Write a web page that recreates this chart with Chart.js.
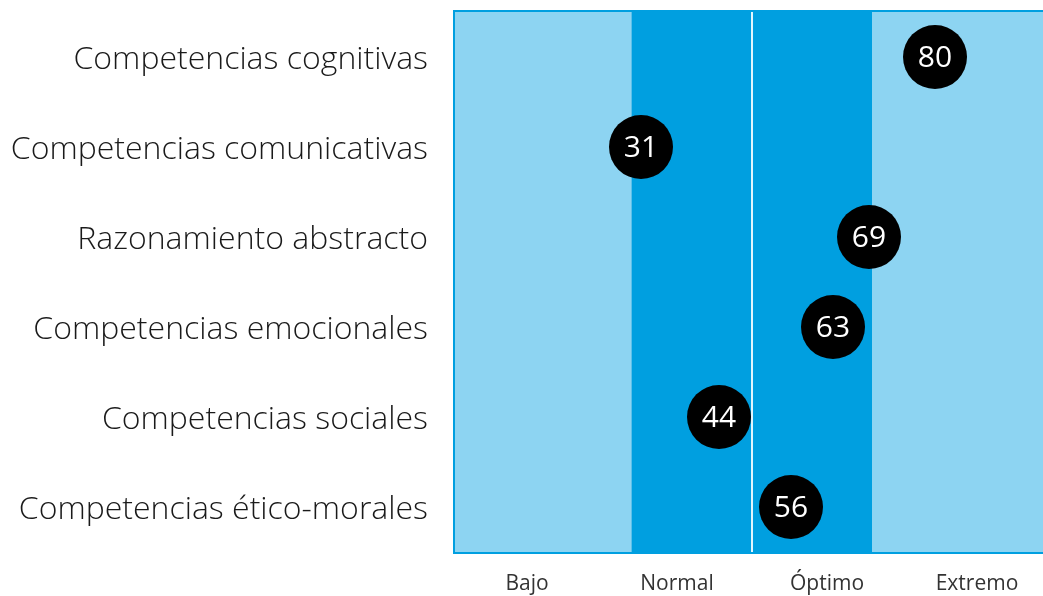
<!DOCTYPE html>
<html>
<head>
<meta charset="utf-8">
<script src="https://cdn.jsdelivr.net/npm/chart.js@4"></script>
<style>
  html, body { margin: 0; padding: 0; background: #fff; overflow: hidden; }
  #wrap { width: 1043px; height: 596px; overflow: hidden; }
</style>
</head>
<body>
<div id="wrap"><canvas id="myChart" width="1056" height="596"></canvas></div>
<script>
const categories = [
  'Competencias cognitivas',
  'Competencias comunicativas',
  'Razonamiento abstracto',
  'Competencias emocionales',
  'Competencias sociales',
  'Competencias ético-morales'
];
const scores = [80, 31, 69, 63, 44, 56];
const levelNames = ['Bajo', 'Normal', 'Óptimo', 'Extremo'];
const levelCenters = [12, 37, 62, 87];
const levelBreaks = [0, 29.5, 49.5, 69.5, 100];

const lightBlue = '#8dd4f2';
const darkBlue = '#009fe0';
const bandColors = [lightBlue, darkBlue, darkBlue, lightBlue];

const bandsPlugin = {
  id: 'bands',
  beforeDatasetsDraw(chart) {
    const { ctx, chartArea, scales } = chart;
    const top = chartArea.top, bottom = chartArea.bottom;
    ctx.save();
    for (let i = 0; i < bandColors.length; i++) {
      const x0 = scales.x.getPixelForValue(levelBreaks[i]);
      const x1 = scales.x.getPixelForValue(levelBreaks[i + 1]);
      ctx.fillStyle = bandColors[i];
      ctx.fillRect(x0, top, x1 - x0, bottom - top);
    }
    // faint edge between Bajo and Normal
    const xe = scales.x.getPixelForValue(levelBreaks[1]);
    ctx.fillStyle = '#5cc0ea';
    ctx.fillRect(xe - 1, top, 1, bottom - top);
    // white divider in the middle
    const xm = scales.x.getPixelForValue(levelBreaks[2]);
    ctx.fillStyle = '#e3f5fd';
    ctx.fillRect(xm - 1, top, 2, bottom - top);
    // frame
    ctx.strokeStyle = darkBlue;
    ctx.lineWidth = 2;
    ctx.strokeRect(chartArea.left - 1, top - 1, chartArea.right - chartArea.left + 2, bottom - top + 2);
    ctx.restore();
  }
};

const valueLabels = {
  id: 'valueLabels',
  afterDatasetsDraw(chart) {
    const { ctx } = chart;
    const meta = chart.getDatasetMeta(0);
    ctx.save();
    ctx.fillStyle = '#ffffff';
    ctx.font = '400 30px "Open Sans"';
    ctx.textAlign = 'center';
    ctx.textBaseline = 'middle';
    meta.data.forEach((pt, i) => {
      ctx.fillText(String(scores[i]), pt.x, pt.y + 1);
    });
    ctx.restore();
  }
};

const ctx = document.getElementById('myChart');

new Chart(ctx, {
  type: 'scatter',
  data: {
    datasets: [{
      data: scores.map((v, i) => ({ x: v, y: categories[i] })),
      backgroundColor: '#000000',
      borderWidth: 0,
      pointRadius: 32,
      pointHoverRadius: 32
    }]
  },
  options: {
    responsive: false,
    animation: false,
    layout: { autoPadding: false, padding: { top: 12, right: 1, left: 0, bottom: 0 } },
    plugins: {
      legend: { display: false },
      tooltip: { enabled: false }
    },
    scales: {
      x: {
        type: 'linear',
        min: 0,
        max: 100,
        grid: { display: false, drawTicks: false },
        border: { display: false },
        afterBuildTicks(scale) {
          scale.ticks = levelCenters.map(v => ({ value: v }));
        },
        afterFit(scale) {
          scale.height = 44;
          scale.paddingLeft = 0;
          scale.paddingRight = 0;
        },
        ticks: {
          padding: 19,
          color: '#333333',
          maxRotation: 0,
          font: { family: 'Open Sans', size: 21 },
          callback(value) {
            const i = levelCenters.indexOf(value);
            return i >= 0 ? levelNames[i] : '';
          }
        }
      },
      y: {
        type: 'category',
        labels: categories,
        offset: true,
        grid: { display: false, drawTicks: false },
        border: { display: false },
        afterFit(scale) {
          scale.width = 455;
          scale.paddingTop = 0;
          scale.paddingBottom = 0;
        },
        ticks: {
          padding: 27,
          labelOffset: 3,
          color: '#1a1a1a',
          font: { family: 'Open Sans', size: 32, weight: 300 }
        }
      }
    }
  },
  plugins: [bandsPlugin, valueLabels]
});
</script>
</body>
</html>
